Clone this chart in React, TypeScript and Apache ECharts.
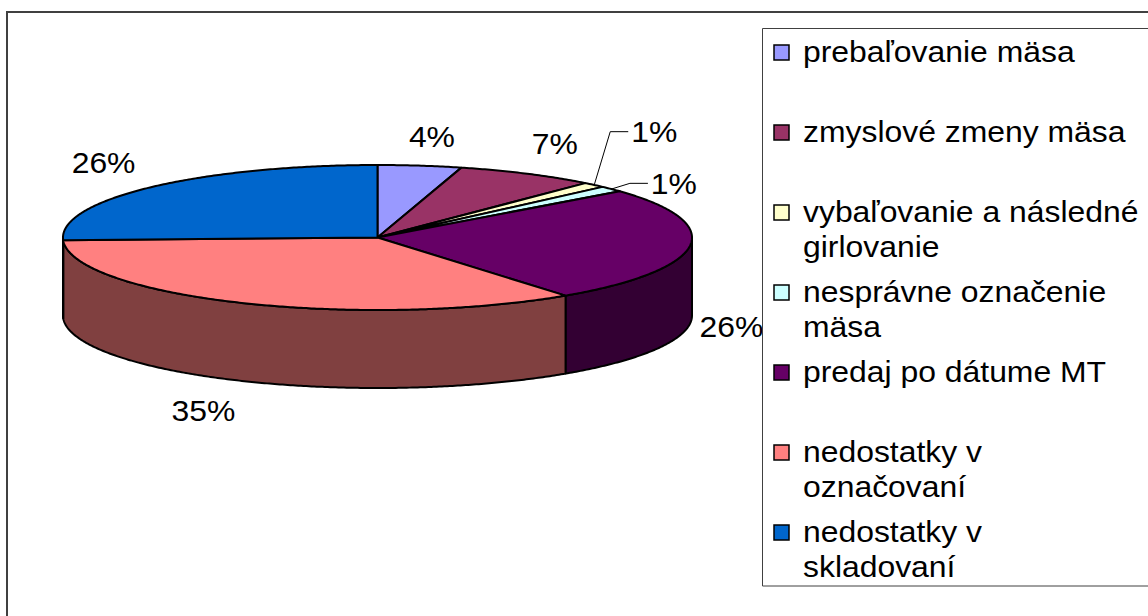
import React, { useEffect, useRef } from 'react';
import * as echarts from 'echarts';

// ---- data ----
const categories = [
  'prebaľovanie mäsa',
  'zmyslové zmeny mäsa',
  'vybaľovanie a následné\ngirlovanie',
  'nesprávne označenie\nmäsa',
  'predaj po dátume MT',
  'nedostatky v\noznačovaní',
  'nedostatky v\nskladovaní',
];
const values = [4.3, 7.2, 1.2, 1.3, 25.8, 34.6, 25.6];
const topColors = ['#9999FF', '#993366', '#FFFFCC', '#CCFFFF', '#660066', '#FF8080', '#0066CC'];
const sideColors = ['#4D4D80', '#4D1A33', '#808066', '#668080', '#330033', '#804040', '#003366'];

// ---- layout ----
const CX = 377.5;
const CY = 237.5;
const RX = 314.5;
const RY = 72.5;
const DEPTH = 78;
const FONT = "'Liberation Sans', Arial, sans-serif";
const FS = 29;
const SX = 1.1;
const LABEL_NUDGE = [
  [6, -1],
  [6, -6],
  [29, -33],
  [29, 13],
  [-3, -1],
  [-19, 4],
  [-15, -5],
];

const total = values.reduce((a, b) => a + b, 0);

function pt(a: number, dy = 0): number[] {
  return [CX + RX * Math.sin(a), CY - RY * Math.cos(a) + dy];
}
function arc(s: number, e: number, dy: number): number[][] {
  const n = Math.max(2, Math.ceil((e - s) / (Math.PI / 360)));
  const out: number[][] = [];
  for (let k = 0; k <= n; k++) out.push(pt(s + ((e - s) * k) / n, dy));
  return out;
}

function renderItem(params: any, api: any) {
  const i = params.dataIndex;
  const v = api.value(0);
  let cum = 0;
  for (let j = 0; j < i; j++) cum += values[j];
  const a0 = (cum / total) * Math.PI * 2;
  const a1 = ((cum + v) / total) * Math.PI * 2;
  const children: any[] = [];
  const s = Math.max(a0, Math.PI / 2);
  const e = Math.min(a1, (Math.PI * 3) / 2);
  if (e > s) {
    const top = arc(s, e, 0);
    const bot = arc(s, e, DEPTH).reverse();
    children.push({
      type: 'polygon',
      z2: 1,
      shape: { points: top.concat(bot) },
      style: { fill: sideColors[i], stroke: '#000', lineWidth: 2, lineJoin: 'round' },
    });
  }
  children.push({
    type: 'polygon',
    z2: 2,
    shape: { points: [[CX, CY]].concat(arc(a0, a1, 0)) },
    style: { fill: topColors[i], stroke: '#000', lineWidth: 2, lineJoin: 'round' },
  });
  // label
  const mid = (a0 + a1) / 2;
  const sn = Math.sin(mid);
  const cs = Math.cos(mid);
  const edge = pt(mid, cs < 0 ? DEPTH : 0);
  const lx = edge[0] + sn * 45 + LABEL_NUDGE[i][0];
  const ly = edge[1] - cs * 28 + LABEL_NUDGE[i][1];
  const pctText = Math.round((v / total) * 100) + '%';
  children.push({
    type: 'text',
    z2: 3,
    x: lx,
    y: ly,
    scaleX: SX,
    style: {
      text: pctText,
      x: 0,
      y: 0,
      fill: '#000',
      fontSize: FS,
      fontFamily: FONT,
      align: 'center',
      verticalAlign: 'middle',
    },
  });
  if (v / total < 0.02) {
    const endX = lx - 26;
    children.push({
      type: 'polyline',
      z2: 3,
      shape: { points: [edge, [endX - 18, ly], [endX, ly]] },
      style: { stroke: '#000', lineWidth: 1, fill: 'none' },
    });
  }
  return { type: 'group', children };
}

export default function App() {
  const ref = useRef<HTMLDivElement>(null);
  useEffect(() => {
    if (!ref.current) return;
    const chart = echarts.init(ref.current, undefined, { renderer: 'svg' });
    const legendEls: any[] = [];
    legendEls.push({
      type: 'rect',
      z: 10,
      shape: { x: 762.5, y: 28.5, width: 500, height: 557.5 },
      style: { fill: '#fff', stroke: '#404040', lineWidth: 1 },
    });
    categories.forEach((name, i) => {
      const cy = 52 + 80 * i;
      legendEls.push({
        type: 'rect',
        z: 11,
        shape: { x: 774, y: cy - 7, width: 15, height: 15 },
        style: { fill: topColors[i], stroke: '#000', lineWidth: 1.5 },
      });
      legendEls.push({
        type: 'text',
        z: 11,
        x: 803,
        y: cy - 17.5,
        scaleX: SX,
        style: {
          text: name,
          x: 0,
          y: 0,
          fill: '#000',
          fontSize: FS,
          fontFamily: FONT,
          lineHeight: 35,
          align: 'left',
          verticalAlign: 'top',
        },
      });
    });
    chart.setOption({
      animation: false,
      backgroundColor: '#fff',
      graphic: [
        {
          type: 'rect',
          z: 0,
          shape: { x: 7, y: 12, width: 1400, height: 900 },
          style: { fill: 'none', stroke: '#404040', lineWidth: 2 },
        },
        ...legendEls,
      ],
      series: [
        {
          type: 'custom',
          coordinateSystem: 'none',
          renderItem,
          data: values.map((v, i) => ({ name: categories[i], value: v })),
          z: 2,
        },
      ],
    });
    return () => chart.dispose();
  }, []);
  return (
    <div
      ref={ref}
      style={{ position: 'absolute', left: 0, top: 0, width: 1148, height: 616 }}
    />
  );
}
